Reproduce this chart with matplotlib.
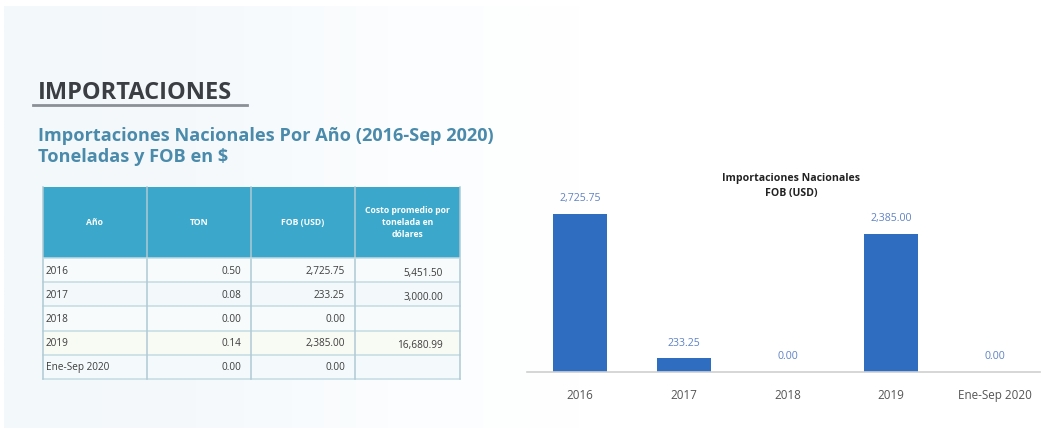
import numpy as np
import matplotlib
matplotlib.use("Agg")
import matplotlib.pyplot as plt
from matplotlib.patches import Rectangle

plt.rcParams['font.family'] = ['Open Sans', 'DejaVu Sans']

# ---- data ----
periods = ["2016", "2017", "2018", "2019", "Ene-Sep 2020"]
ton = [0.50, 0.08, 0.00, 0.14, 0.00]
fob_usd = [2725.75, 233.25, 0.00, 2385.00, 0.00]
cost_per_ton = [5451.50, 3000.00, None, 16680.99, None]
table_headers = ["Año", "TON", "FOB (USD)", "Costo promedio por\ntonelada en\ndólares"]

W, H = 1043, 428
fig = plt.figure(figsize=(W / 100, H / 100), dpi=100)
fig.patch.set_facecolor("white")

# full-figure canvas in pixel units for slide decoration and the table
bg = fig.add_axes([0, 0, 1, 1])
bg.set_xlim(0, W)
bg.set_ylim(H, 0)
bg.axis("off")

# soft tinted panel behind the left side of the slide
grad = np.linspace(0, 1, 256)[None, :]
panel_cmap = matplotlib.colors.LinearSegmentedColormap.from_list(
    "panel", ["#f3f8fb", "#f5f9fc", "#fbfdfe", "#ffffff"])
bg.imshow(grad, extent=(4, 580, 428, 6), cmap=panel_cmap, aspect="auto", zorder=0)

# section heading
bg.text(38, 93, "IMPORTACIONES", fontsize=17, fontweight="bold", color="#3b3f44",
        va="center", ha="left", zorder=3)
bg.plot([33, 247], [105, 105], color="#8a9096", lw=2, zorder=3)

# subtitle
bg.text(38, 136, "Importaciones Nacionales Por Año (2016-Sep 2020)", fontsize=13.1,
        fontweight="bold", color="#4a8aab", va="center", ha="left", zorder=3)
bg.text(38, 157, "Toneladas y FOB en $", fontsize=13.1, fontweight="bold",
        color="#4a8aab", va="center", ha="left", zorder=3)

# ---- table ----
col_edges = [43, 147, 251, 355, 460]
head_top, head_bot = 187, 258
row_h = (379 - head_bot) / len(periods)

bg.add_patch(Rectangle((col_edges[0], head_top), col_edges[-1] - col_edges[0],
                       head_bot - head_top, facecolor="#3aa7cb", edgecolor="none", zorder=2))
for i, h in enumerate(table_headers):
    cx = (col_edges[i] + col_edges[i + 1]) / 2
    bg.text(cx, (head_top + head_bot) / 2, h, fontsize=6.2, fontweight="bold", color="white",
            ha="center", va="center", linespacing=1.4, zorder=4)

row_colors = ["#f7fbfc", "#f3f8fb", "#f7fbfc", "#f8faf4", "#f4f9fb"]
for r, per in enumerate(periods):
    y0 = head_bot + r * row_h
    bg.add_patch(Rectangle((col_edges[0], y0), col_edges[-1] - col_edges[0], row_h,
                           facecolor=row_colors[r], edgecolor="none", zorder=2))
    bg.plot([col_edges[0], col_edges[-1]], [y0 + row_h, y0 + row_h], color="#c3dbe3",
            lw=1.1, zorder=3)
    yc = y0 + row_h / 2 + 1
    bg.text(col_edges[0] + 3, yc, per, fontsize=7.2, color="#3d3d3d", ha="left",
            va="center", zorder=4)
    bg.text(col_edges[2] - 10, yc, f"{ton[r]:,.2f}", fontsize=7.2, color="#3d3d3d",
            ha="right", va="center", zorder=4)
    bg.text(col_edges[3] - 10, yc, f"{fob_usd[r]:,.2f}", fontsize=7.2, color="#3d3d3d",
            ha="right", va="center", zorder=4)
    if cost_per_ton[r] is not None:
        bg.text(col_edges[4] - 17, yc + 2, f"{cost_per_ton[r]:,.2f}", fontsize=7.2,
                color="#3d3d3d", ha="right", va="center", zorder=4)

for x in col_edges:
    bg.plot([x, x], [head_top, 379], color="#afcad4", lw=1.1, zorder=3)
bg.plot([col_edges[0], col_edges[-1]], [head_bot, head_bot], color="#c3dbe3", lw=1.1, zorder=3)

# ---- bar chart ----
base_px, top_px = 372, 165
left_px, right_px = 527, 1040
ax = fig.add_axes([left_px / W, (H - base_px) / H, (right_px - left_px) / W,
                   (base_px - top_px) / H])
ax.set_facecolor("none")
x = np.arange(len(periods))
bars = ax.bar(x, fob_usd, width=0.52, color="#2f6dc0", zorder=2)
ax.bar_label(bars, labels=[f"{v:,.2f}" for v in fob_usd], padding=7, fontsize=7.6,
             color="#5f83c5")
ax.set_ylim(0, 3571)
ax.set_xlim(-0.511, 4.434)
ax.set_xticks(x)
ax.set_xticklabels(periods, fontsize=8.4, color="#555555")
ax.tick_params(axis="x", length=0, pad=12)
ax.set_yticks([])
for s in ["top", "left", "right"]:
    ax.spines[s].set_visible(False)
ax.spines["bottom"].set_color("#cfcfcf")
ax.spines["bottom"].set_linewidth(1.2)

bg.text(791, 186, "Importaciones Nacionales\nFOB (USD)", fontsize=7.6, fontweight="bold",
        color="#222222", ha="center", va="center", linespacing=1.45, zorder=4)

fig.savefig("out.png", dpi=100)
